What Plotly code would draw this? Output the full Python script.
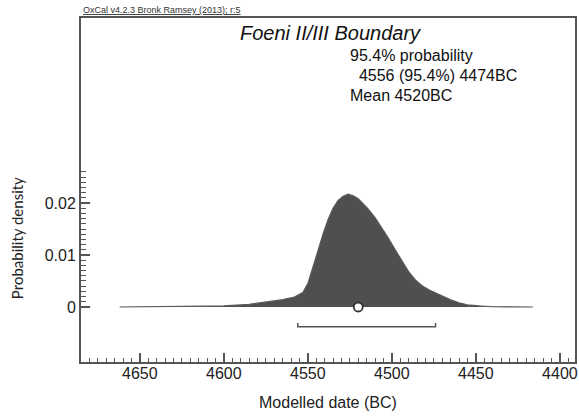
import numpy as np
import plotly.graph_objects as go

# Posterior density for the boundary (years BC, probability density)
years = [4662, 4620, 4600, 4585, 4575, 4565, 4558, 4553, 4550, 4547, 4544, 4541,
         4538, 4535, 4532, 4529, 4526, 4523, 4520, 4517, 4514, 4510, 4506, 4502,
         4498, 4494, 4490, 4486, 4482, 4478, 4474, 4470, 4465, 4460, 4455, 4448,
         4440, 4416]
density = [0.0, 0.00005, 0.0002, 0.0005, 0.0009, 0.0014, 0.0019, 0.0028, 0.0045,
           0.0075, 0.0108, 0.0140, 0.0168, 0.0190, 0.0205, 0.0213, 0.0217, 0.0214,
           0.0208, 0.0198, 0.0188, 0.0172, 0.0153, 0.0132, 0.0110, 0.0088, 0.0068,
           0.0052, 0.0041, 0.0033, 0.0027, 0.0021, 0.0014, 0.0008, 0.0004, 0.0002,
           0.00005, 0.0]

range_from = 4556
range_to = 4474
mean_year = 4520

x_ticks = [4650, 4600, 4550, 4500, 4450, 4400]
y_ticks = [0, 0.01, 0.02]
y_tick_labels = ["0", "0.01", "0.02"]

title_text = "Foeni II/III Boundary"
info_lines = ["95.4% probability", "\u00a0\u00a04556 (95.4%) 4474BC", "Mean 4520BC"]

AX = "#555555"
FONT = "Liberation Sans, Arial, sans-serif"

fig = go.Figure()
fig.add_trace(go.Scatter(
    x=years, y=density, mode="lines", fill="tozeroy",
    fillcolor="#4f4f4f", line=dict(color="#5a5a5a", width=1.2),
    hoverinfo="skip", showlegend=False))

# 95.4% range bracket
bracket_y = -0.0038
bracket_tip = -0.0031
fig.add_trace(go.Scatter(
    x=[range_from, range_from, range_to, range_to],
    y=[bracket_tip, bracket_y, bracket_y, bracket_tip],
    mode="lines", line=dict(color="#555555", width=1.5),
    hoverinfo="skip", showlegend=False))

# mean marker
fig.add_trace(go.Scatter(
    x=[mean_year], y=[0], mode="markers",
    marker=dict(size=9, color="white", line=dict(color="#333333", width=1.8)),
    hoverinfo="skip", showlegend=False))

y_minor = [round(v, 4) for v in np.arange(0.001, 0.0261, 0.001)]

fig.update_layout(
    width=579, height=417,
    margin=dict(l=81, r=4, t=18, b=55),
    paper_bgcolor="white", plot_bgcolor="white",
    font=dict(family=FONT, size=16, color="#222222"),
    xaxis=dict(
        range=[4685, 4391], tickmode="array", tickvals=x_ticks,
        ticks="inside", ticklen=9, tickwidth=1.5, tickcolor=AX,
        showline=True, linecolor=AX, linewidth=2, mirror=True,
        showgrid=False, zeroline=False, automargin=False,
        ticklabelstandoff=-4,
        tickfont=dict(size=16, color="#222222"),
        minor=dict(dtick=5, tick0=4400, ticks="inside", ticklen=4,
                   tickwidth=1, tickcolor=AX, showgrid=False),
    ),
    yaxis=dict(
        range=[-0.01058, 0.05558], tickmode="array", tickvals=y_ticks,
        ticktext=y_tick_labels,
        ticks="inside", ticklen=9, tickwidth=1.5, tickcolor=AX,
        showline=True, linecolor=AX, linewidth=2, mirror=True,
        showgrid=False, zeroline=False, automargin=False,
        tickfont=dict(size=16, color="#222222"),
        minor=dict(tickmode="array", tickvals=y_minor, ticks="inside",
                   ticklen=5, tickwidth=1, tickcolor=AX, showgrid=False),
    ),
    annotations=[
        dict(text="<u>OxCal v4.2.3 Bronk Ramsey (2013); r:5</u>", xref="paper", yref="paper",
             x=0.0, y=1.0, xanchor="left", yanchor="bottom", yshift=1,
             showarrow=False, font=dict(size=9, color="#333333")),
        dict(text="<i>" + title_text + "</i>", xref="paper", yref="paper",
             x=0.318, y=0.956, xanchor="left", yanchor="middle",
             showarrow=False, font=dict(size=20, color="#111111")),
        dict(text=info_lines[0], xref="paper", yref="paper",
             x=0.5405, y=0.892, xanchor="left", yanchor="middle",
             showarrow=False, font=dict(size=16, color="#111111")),
        dict(text=info_lines[1], xref="paper", yref="paper",
             x=0.5405, y=0.834, xanchor="left", yanchor="middle",
             showarrow=False, font=dict(size=16, color="#111111")),
        dict(text=info_lines[2], xref="paper", yref="paper",
             x=0.5405, y=0.776, xanchor="left", yanchor="middle",
             showarrow=False, font=dict(size=16, color="#111111")),
        dict(text="Modelled date (BC)", xref="paper", yref="paper",
             x=0.5, y=-0.119, xanchor="center", yanchor="middle",
             showarrow=False, font=dict(size=16, color="#222222")),
        dict(text="Probability density", xref="paper", yref="paper",
             x=-0.1296, y=0.36, xanchor="center", yanchor="middle", textangle=-90,
             showarrow=False, font=dict(family="Lato, Carlito, sans-serif", size=15, color="#222222")),
    ],
)

fig.write_html("out.html", config={"displayModeBar": False},
               post_script="document.body.style.margin='0';document.body.style.overflow='hidden';")
